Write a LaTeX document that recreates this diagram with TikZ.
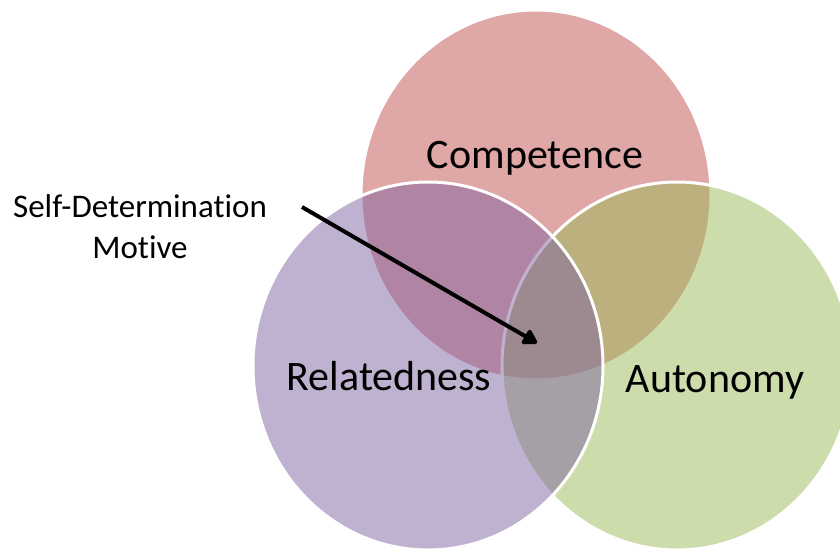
\documentclass[tikz,border=0pt]{standalone}
\usepackage{fontspec}
\setmainfont[Ligatures=NoCommon]{Carlito}
\usetikzlibrary{arrows.meta}
\definecolor{cred}{HTML}{C0504D}
\definecolor{cgreen}{HTML}{9BBB59}
\definecolor{cpurple}{HTML}{8064A2}
\tikzset{
  venn/.style={draw=white, line width=3pt, fill opacity=0.5, draw opacity=1},
  biglabel/.style={font=\fontsize{42}{50}\selectfont, anchor=base, inner sep=0pt, text=black},
  smalllabel/.style={font=\fontsize{33}{41}\selectfont, align=center, inner sep=0pt, text=black},
  pointer/.style={line width=4pt, -{Triangle[length=16pt,width=18pt,round]}}
}
\begin{document}
\begin{tikzpicture}[x=1pt,y=-1pt]
\useasboundingbox (0,0) rectangle (840,551);
\fill[white] (0,0) rectangle (840,551);
\begin{scope}
\clip (0,0) rectangle (840,551);
\path[venn, fill=cred] (536,195) ellipse [x radius=175, y radius=185];
\path[venn, fill=cgreen] (677,366) ellipse [x radius=175, y radius=184];
\path[venn, fill=cpurple] (428,366) ellipse [x radius=175, y radius=184];
\end{scope}
\node[biglabel] (comp) at (535,168) {Competence};
\node[biglabel] (rel) at (389,390) {Relatedness};
\node[biglabel] (aut) at (715,392) {Autonomy};
\node[smalllabel] (sdm) at (140,227) {Self-Determination\\Motive};
\coordinate (astart) at (302,207);
\coordinate (atip) at (537,343);
\draw[pointer] (astart) -- (atip);
\end{tikzpicture}
\end{document}
